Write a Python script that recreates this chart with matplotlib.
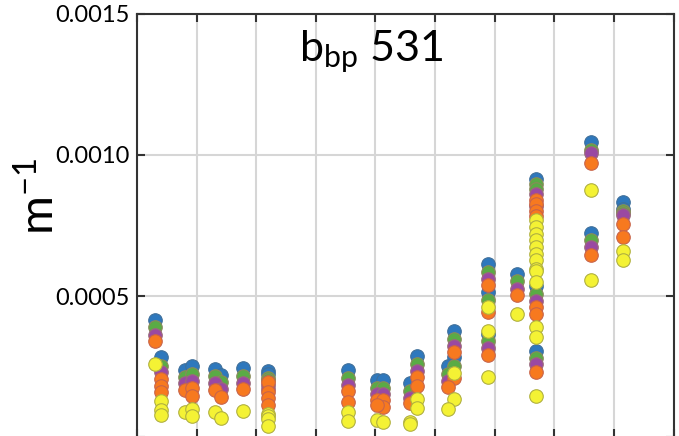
#!/usr/bin/env python3

import matplotlib
matplotlib.use("Agg")
from matplotlib import pyplot as plt
from matplotlib.ticker import FixedLocator, FixedFormatter

# station positions along x (axis runs 0..9)
stations = [0.30, 0.40, 0.80, 0.92, 1.31, 1.41, 1.78, 2.19, 3.54, 4.02,
            4.13, 4.58, 4.69, 5.21, 5.31, 5.89, 6.38, 6.70, 7.62, 8.16]
#             0     1     2     3     4     5     6     7     8     9
#            10    11    12    13    14    15    16    17    18    19

blue_st = [0, 1, 2, 3, 4, 5, 6, 7, 7, 8, 9, 10, 12, 11, 14, 14, 13,
           15, 15, 15, 16, 17, 17, 17, 18, 18, 19, 19]
blue_val = [0.000415, 0.000282, 0.000238, 0.000252, 0.000241, 0.000220, 0.000244,
            0.000235, 0.000224, 0.000237, 0.000203, 0.000203, 0.000288, 0.000190,
            0.000377, 0.000282, 0.000252, 0.000614, 0.000513, 0.000365, 0.000579,
            0.000916, 0.000537, 0.000306, 0.001046, 0.000723, 0.000833, 0.000810]

green_st = [0, 1, 2, 3, 4, 5, 6, 7, 7, 8, 9, 10, 12, 11, 14, 14, 13,
            15, 15, 15, 16, 17, 17, 17, 17, 18, 18, 19, 19]
green_val = [0.000389, 0.000252, 0.000213, 0.000223, 0.000217, 0.000196, 0.000217,
             0.000210, 0.000203, 0.000209, 0.000175, 0.000175, 0.000258, 0.000164,
             0.000347, 0.000252, 0.000225, 0.000584, 0.000487, 0.000339, 0.000552,
             0.000898, 0.000880, 0.000507, 0.000280, 0.001019, 0.000697, 0.000803,
             0.000795]

purple_st = [0, 1, 2, 3, 4, 5, 6, 7, 7, 8, 9, 10, 12, 11, 14, 13,
             15, 15, 16, 17, 17, 17, 17, 18, 18, 19]
purple_val = [0.000363, 0.000229, 0.000193, 0.000197, 0.000193, 0.000171, 0.000193,
              0.000185, 0.000170, 0.000184, 0.000154, 0.000154, 0.000235, 0.000140,
              0.000323, 0.000199, 0.000560, 0.000315, 0.000526, 0.000863, 0.000820,
              0.000483, 0.000258, 0.001008, 0.000675, 0.000789]

orange_st = [0, 1, 1, 1, 2, 3, 3, 4, 5, 6, 7, 7, 7, 7, 8, 8, 9, 10, 10, 9,
             12, 12, 11, 14, 14, 13, 15, 15, 15, 16, 17, 17, 17, 17, 17, 17,
             17, 18, 18, 19, 19]
orange_val = [0.000341, 0.000205, 0.000181, 0.000161, 0.000166, 0.000173, 0.000146,
              0.000167, 0.000143, 0.000170, 0.000196, 0.000160, 0.000140, 0.000115,
              0.000164, 0.000124, 0.000130, 0.000130, 0.000107, 0.000112, 0.000213,
              0.000181, 0.000122, 0.000300, 0.000209, 0.000179, 0.000540, 0.000442,
              0.000291, 0.000505, 0.000839, 0.000825, 0.000803, 0.000785, 0.000462,
              0.000436, 0.000229, 0.000971, 0.000647, 0.000756, 0.000708]

yellow_st = [0, 1, 1, 1, 2, 3, 3, 4, 5, 6, 7, 7, 7, 7, 8, 8, 9, 10, 12, 12,
             11, 11, 14, 14, 13, 15, 15, 15, 16,
             17, 17, 17, 17, 17, 17, 17, 17, 17, 17, 17, 17, 17,
             18, 18, 19, 19]
yellow_val = [0.000258, 0.000128, 0.000095, 0.000078, 0.0000889, 0.0000985, 0.0000746,
              0.0000900, 0.0000687, 0.0000924, 0.0000825, 0.000075, 0.000064, 0.000040,
              0.0000889, 0.0000569, 0.0000594, 0.0000544, 0.000134, 0.000104,
              0.0000544, 0.0000473, 0.000226, 0.000134, 0.0000984, 0.000462, 0.000377,
              0.000213, 0.000437,
              0.000768, 0.000744, 0.000720, 0.000697, 0.000673, 0.000650, 0.000626,
              0.000596, 0.000590, 0.000548, 0.000389, 0.000355, 0.000146,
              0.000877, 0.000557, 0.000659, 0.000626]

y_ticks = [0.0, 0.0005, 0.0010, 0.0015]
y_tick_labels = ["", "0.0005", "0.0010", "0.0015"]

series = [
    (blue_st, blue_val, "#2e78bd", "#3f6f9a"),
    (green_st, green_val, "#5aab45", "#8a8a5a"),
    (purple_st, purple_val, "#9a49a2", "#9a6a7a"),
    (orange_st, orange_val, "#f7791f", "#c8644a"),
    (yellow_st, yellow_val, "#f4f234", "#b0b040"),
]


def main():
    plt.rcParams['font.family'] = ['Lato', 'DejaVu Sans']
    plt.rcParams['mathtext.fontset'] = 'custom'
    plt.rcParams['mathtext.rm'] = 'Lato'
    plt.rcParams['mathtext.it'] = 'Lato'

    fig = plt.figure(figsize=(6.79, 4.36), dpi=100)
    ax = fig.add_axes([0.2018, -0.0023, 0.7901, 0.9702])

    for st, vals, face, edge in series:
        xs = [stations[i] for i in st]
        ax.scatter(xs, vals, s=95, c=face, edgecolors=edge, linewidths=0.8, zorder=3)

    ax.set_xlim(0, 9)
    ax.set_ylim(0, 0.0015)
    ax.xaxis.set_major_locator(FixedLocator(range(0, 10)))
    ax.yaxis.set_major_locator(FixedLocator(y_ticks))
    ax.yaxis.set_major_formatter(FixedFormatter(y_tick_labels))
    ax.set_xticklabels([])
    ax.grid(True, color='#d6d6d6', linewidth=1.5, zorder=0)
    ax.tick_params(direction='in', length=6, width=1.5, color='#333333',
                   top=True, right=True, labelsize=17, pad=5)
    for s in ax.spines.values():
        s.set_color('#333333')
        s.set_linewidth(1.5)

    ax.text(0.437, 0.912, r"$\mathregular{b_{bp}}$ 531", transform=ax.transAxes,
            ha='center', va='center', fontsize=31)
    fig.text(0.058, 0.55, r"m$\mathregular{^{-1}}$", rotation=90,
             ha='center', va='center', fontsize=34)

    fig.savefig("out.png", dpi=100)


if __name__ == "__main__":
    main()
